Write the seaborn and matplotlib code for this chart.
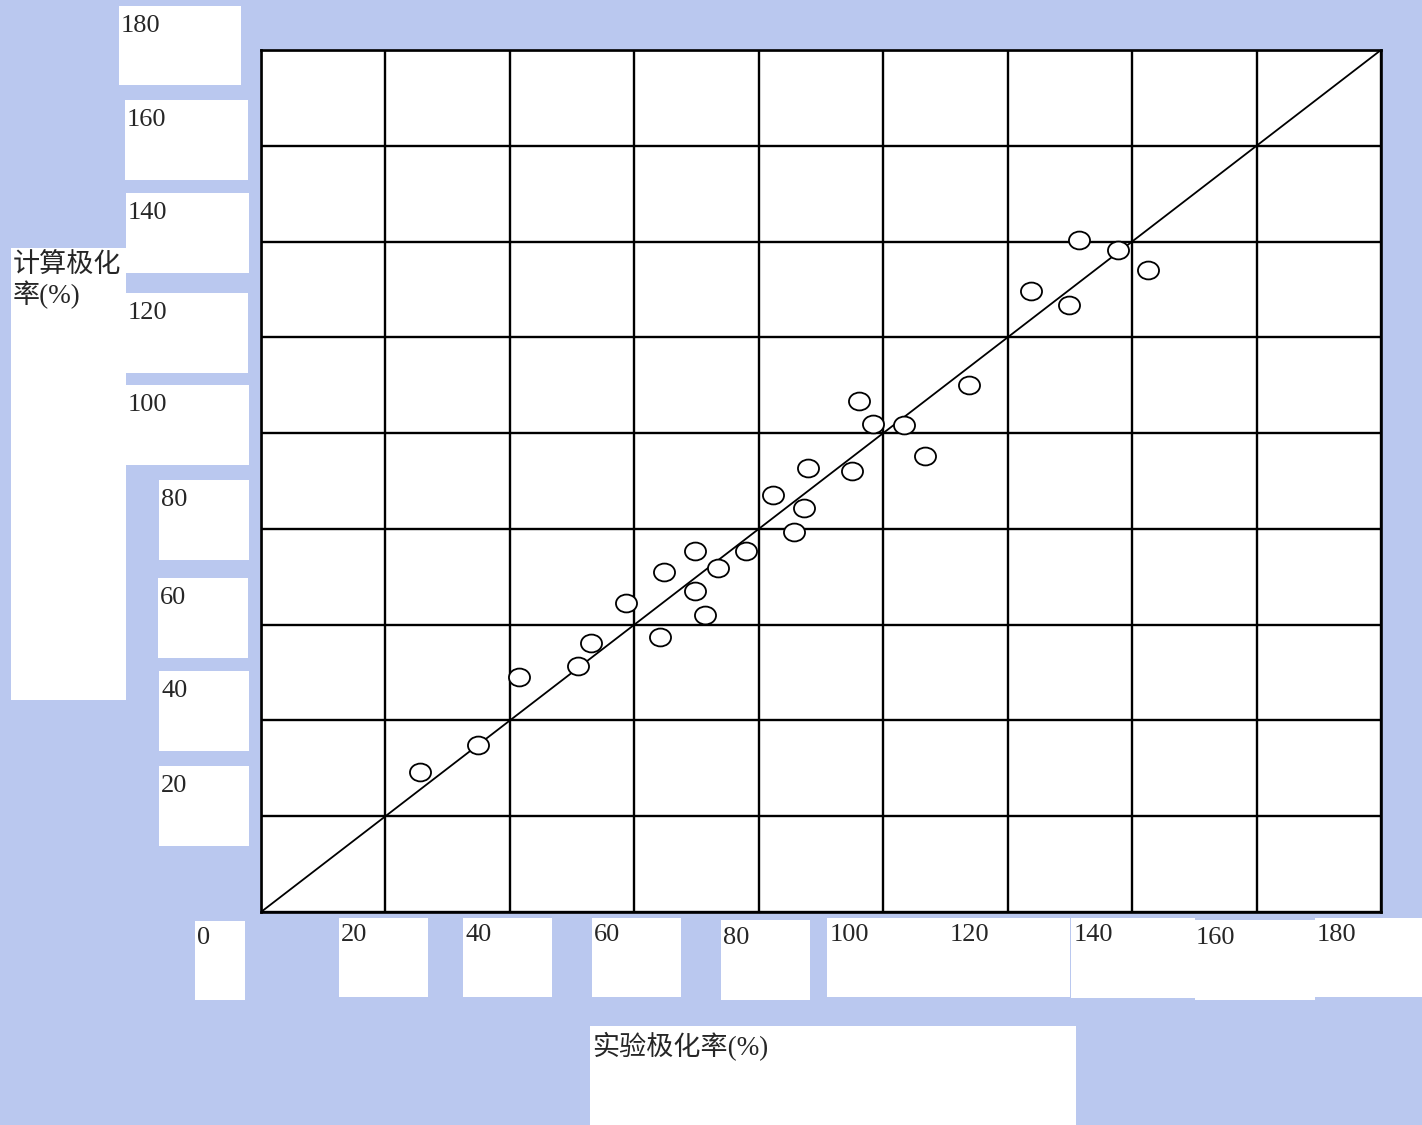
import matplotlib
matplotlib.use("Agg")
import matplotlib.pyplot as plt
from matplotlib.path import Path
from matplotlib.transforms import Affine2D
from matplotlib.patches import Rectangle
import seaborn as sns
import pandas as pd

# measured vs calculated polarizability (%)
exp_vals = [25.6, 34.9, 41.5, 50.9, 53.0, 58.7, 64.1, 64.8, 69.8, 69.8, 71.4, 73.4, 77.9, 82.3,
            85.7, 87.3, 87.9, 95.0, 96.1, 98.4, 103.3, 106.7, 113.8, 123.8, 129.9, 131.5, 137.7, 142.6]
calc_vals = [29.2, 34.9, 49.1, 51.4, 56.2, 64.5, 57.4, 71.0, 67.0, 75.4, 62.0, 71.8, 75.4, 87.1,
             79.4, 84.4, 92.7, 92.1, 106.7, 101.9, 101.7, 95.2, 110.0, 129.7, 126.8, 140.3, 138.2, 134.1]
line_x = [0, 180]
line_y = [0, 180]
ticks = [0, 20, 40, 60, 80, 100, 120, 140, 160, 180]
x_label = "实验极化率(%)"
y_label = "计算极化\n率(%)"

df = pd.DataFrame({"exp": exp_vals, "calc": calc_vals})

W, H = 1422, 1125
sns.set_style("white")
plt.rcParams["font.family"] = ["Liberation Serif", "Noto Sans CJK SC", "DejaVu Sans"]

fig = plt.figure(figsize=(W / 100, H / 100), dpi=100)
fig.patch.set_facecolor("#bac8ef")


def fx(px):
    return px / W


def fy(py):
    return 1 - py / H


def box(x0, y0, x1, y1):
    fig.patches.append(Rectangle((fx(x0), fy(y1)), fx(x1) - fx(x0), fy(y0) - fy(y1),
                                 transform=fig.transFigure, facecolor="white",
                                 edgecolor="none", zorder=0))


ax = fig.add_axes([fx(261), fy(912), fx(1381) - fx(261), fy(50) - fy(912)])
ax.set_facecolor("white")

ax.plot(line_x, line_y, color="black", lw=1.3, zorder=2)
ellipse = Path.unit_circle().transformed(Affine2D().scale(1.18, 1.0))
sns.scatterplot(data=df, x="exp", y="calc", ax=ax, marker=ellipse, s=230,
                color="white", edgecolor="black", linewidth=1.3, zorder=3, legend=False)

ax.set_xlim(0, 180)
ax.set_ylim(0, 180)
ax.set_xticks(ticks)
ax.set_yticks(ticks)
ax.set_xticklabels([])
ax.set_yticklabels([])
ax.tick_params(length=0)
ax.grid(True, color="black", lw=1.7)
ax.set_xlabel("")
ax.set_ylabel("")
for sp in ax.spines.values():
    sp.set_color("black")
    sp.set_linewidth(1.9)

fs = 19
fs_cjk = 19.5

# y tick label boxes (as in the original slide, they float beside the grid)
y_boxes = [(119, 6, 241, 85), (125, 100, 248, 180), (126, 193, 249, 273), (126, 293, 248, 373),
           (126, 385, 249, 465), (159, 480, 249, 560), (158, 578, 248, 658), (159, 671, 249, 751),
           (159, 766, 249, 846)]
for t, (x0, y0, x1, y1) in zip(ticks[::-1][:-1], y_boxes):
    box(x0, y0, x1, y1)
    fig.text(fx(x0 + 2), fy(y0 + 9), str(t), fontsize=fs, va="top", ha="left")

# y axis title box
box(11, 248, 126, 700)
fig.text(fx(13), fy(254), y_label, fontsize=fs_cjk, va="top", ha="left", linespacing=1.05)

# x tick label boxes
x_boxes = [(195, 921, 245, 1000), (339, 918, 428, 997), (463, 918, 552, 997), (592, 918, 681, 997),
           (721, 920, 810, 1000), (827, 918, 1070, 997), (1071, 918, 1195, 998),
           (1195, 920, 1315, 1000), (1315, 918, 1422, 997)]
for b in x_boxes:
    box(*b)
x_text_pos = [(197, 927), (341, 924), (465, 924), (594, 924), (723, 927), (830, 924),
              (950, 924), (1074, 924), (1196, 927), (1317, 924)]
for t, (px, py) in zip(ticks, x_text_pos):
    fig.text(fx(px), fy(py), str(t), fontsize=fs, va="top", ha="left")

# x axis title box
box(590, 1026, 1076, 1125)
fig.text(fx(592), fy(1032), x_label, fontsize=fs_cjk, va="top", ha="left")

fig.savefig("out.png", dpi=100, facecolor=fig.get_facecolor())
